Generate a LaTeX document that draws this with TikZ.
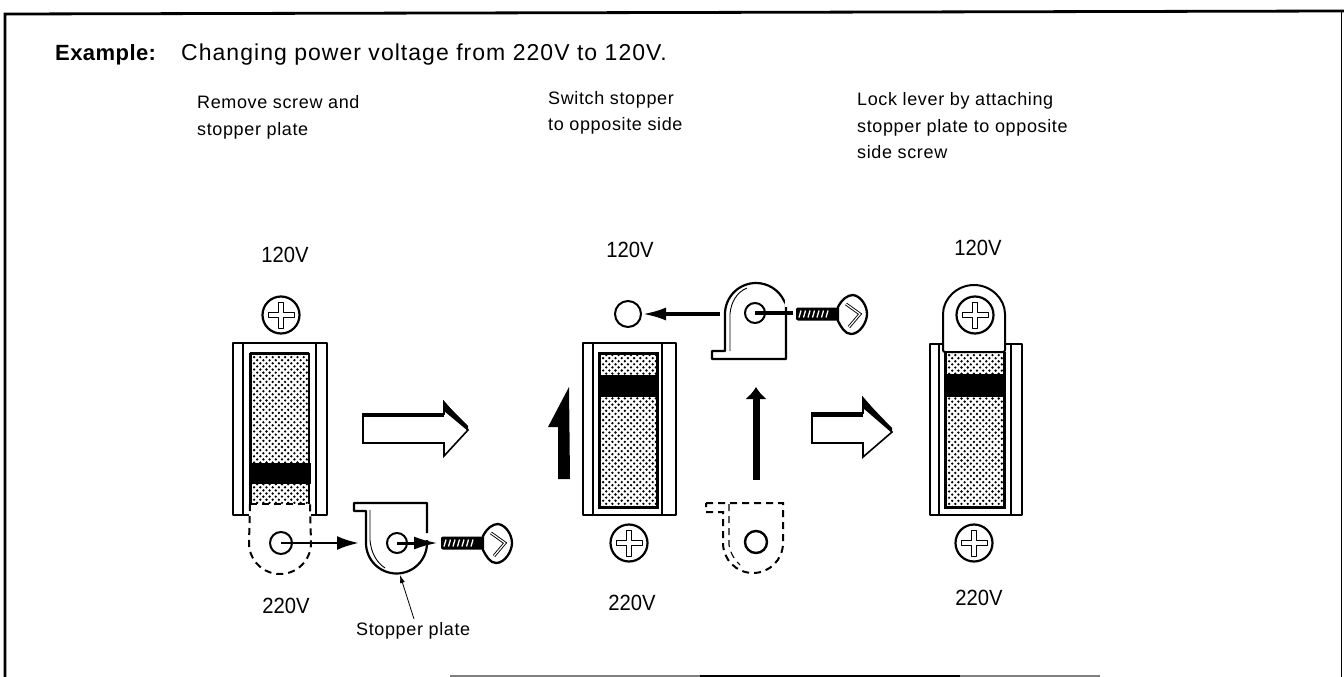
\documentclass[tikz,border=0pt]{standalone}
\usepackage{fontspec}
\setmainfont{Liberation Sans}
\newfontfamily\narrowf[FakeStretch=0.92]{Liberation Sans}
\newfontfamily\titlef[LetterSpace=4.5]{Liberation Sans}
\newfontfamily\exf[LetterSpace=2]{Liberation Sans Bold}
\newfontfamily\capf[LetterSpace=3.5]{Liberation Sans}
\usetikzlibrary{arrows.meta}
\tikzset{
  x=1pt,y=-1pt,
  title/.style={font=\titlef\fontsize{23}{26}\selectfont,anchor=base west,inner sep=0pt},
  caption/.style={font=\capf\fontsize{18}{20}\selectfont,anchor=base west,inner sep=0pt},
  volt/.style={font=\narrowf\fontsize{22}{24}\selectfont,inner sep=0pt,anchor=base},
  part/.style={draw=black,line width=2.2pt,line join=round},
  rail/.style={draw=black,line width=1.7pt},
  dash part/.style={draw=black,line width=2pt,dash pattern=on 7pt off 5pt},
  hole/.style={circle,draw=black,line width=2pt,fill=white,inner sep=0pt,minimum size=#1},
  push/.style={line width=2.8pt,-{Latex[length=22pt,width=14pt]}},
  leader/.style={line width=0.8pt,-{Latex[length=8pt,width=5pt]}},
}
\newcommand{\screwhead}[3]{% name x y : head seen from the front
  \node[circle,draw=black,line width=2.2pt,fill=white,minimum size=37pt,inner sep=0pt] (#1) at (#2,#3) {};
  \draw[line width=0.8pt,fill=white,line join=round] (#2-2.5,#3-13)--(#2+2.5,#3-13)--(#2+2.5,#3-2.5)--(#2+13,#3-2.5)--(#2+13,#3+2.5)--(#2+2.5,#3+2.5)--(#2+2.5,#3+13)--(#2-2.5,#3+13)--(#2-2.5,#3+2.5)--(#2-13,#3+2.5)--(#2-13,#3-2.5)--(#2-2.5,#3-2.5)--cycle;
}
\newcommand{\stipple}[4]{%
  \begin{scope}
    \clip (#1,#2) rectangle (#3,#4);
    \foreach \yy in {0,...,50}{%
      \pgfmathsetmacro{\off}{mod(\yy,2)*3.1}%
      \foreach \xx in {0,...,10}{%
        \fill[black] ({#1+\xx*6.2+\off},{#2+\yy*3.1}) circle (1.3pt);
      }
    }
  \end{scope}
}
\newcommand{\screwside}[3]{% name x y : x y = middle of the head
  \begin{scope}[shift={(#2,#3)}]
    \fill[black,rounded corners=2pt] (-56,-6.5) rectangle (-12,6.5);
    \foreach \tx in {-52,-47.5,-43,-38.5,-34,-29.5,-25}{
      \draw[white,line width=1.3pt] (\tx+1,-3.5) -- (\tx-1,3.5);
    }
    \draw[line width=2.3pt,fill=white,line join=round] (-14,-7) .. controls (-10,-15) and (-4,-19) .. (1,-19) .. controls (9,-18) and (15,-8) .. (15,0) .. controls (15,8) and (8,20) .. (-1,20) .. controls (-7,20) and (-11,13) .. (-14,7) -- cycle;
    \draw[line width=3pt,line join=miter] (-6,-10) -- (8,0) -- (-3,13);
    \draw[white,line width=1.2pt] (-6,-10) -- (8,0) -- (-3,13);
  \end{scope}
  \coordinate (#1) at (#2,#3);
}
\begin{document}
\begin{tikzpicture}
\useasboundingbox (0,0) rectangle (1344,677);
% frame
\coordinate (fTL) at (5,14); \coordinate (fTR) at (1344,11);
\coordinate (fBL) at (5,677); \coordinate (fBR) at (1341,677);
\draw[line width=2.8pt] (fBL) -- (fTL) -- (fTR);
\draw[line width=0.7pt] (1341,12) -- (fBR);
\draw[line width=1.4pt,gray] (450,675.8) -- (1100,675.8);
\draw[line width=1.4pt,black] (700,675.8) -- (960,675.8);
% texts
\node[title,font=\exf\fontsize{22}{26}\selectfont] (ex) at (55,60) {Example:};
\node[title] (ttl) at (181,60) {Changing power voltage from 220V to 120V.};
\node[caption] (c1a) at (197,108) {Remove screw and};
\node[caption] (c1b) at (197,135) {stopper plate};
\node[caption] (c2a) at (548,104) {Switch stopper};
\node[caption] (c2b) at (548,130) {to opposite side};
\node[caption] (c3a) at (857,105) {Lock lever by attaching};
\node[caption] (c3b) at (857,132) {stopper plate to opposite};
\node[caption] (c3c) at (857,158) {side screw};
\node[volt] (a120) at (285,262) {120V};
\node[volt] (b120) at (630,257) {120V};
\node[volt] (d120) at (978,255) {120V};
\node[volt] (a220) at (286,613) {220V};
\node[volt] (b220) at (632,610) {220V};
\node[volt] (d220) at (979,605) {220V};
\node[caption] (sp) at (356,635) {Stopper plate};

% ---------- switch 1
\draw[part] (233,343) rectangle (327,515);
\draw[rail] (243,343) -- (243,515) (316,343) -- (316,515);
\stipple{251}{354}{309}{505}
\draw[part,line width=3pt] (250,353) -- (309,353) (250,353) -- (250,505);
\fill[black] (250,463) rectangle (311,484);
\draw[line width=1.8pt] (309,353)--(309,505);
\screwhead{s1}{281}{315}
% dashed plate at the bottom
\fill[white] (249,504) rectangle (311,516);
\draw[dash part] (250,504) -- (249,543) arc[start angle=180,end angle=0,x radius=31,y radius=31] -- (310,504);
\draw[dash part] (250,504) -- (310,504);
\draw[line width=2.2pt] (233,515) -- (249,515) (311,515) -- (327,515);
% parts taken off
\node[hole=22pt] (h1) at (281,543) {};
\coordinate (h1c) at (281,543);
\coordinate (p1w) at (359,543);
\draw[push] (h1c) -- (p1w);
\fill[white] (354,503) -- (427,503) -- (427,543) arc[start angle=0,end angle=180,x radius=30.5,y radius=30.5] -- (366,511) -- (354,511) -- cycle;
\draw[part] (427,533) -- (427,503) -- (354,503) -- (354,511) -- (366,511) -- (366,543) arc[start angle=180,end angle=0,x radius=30.5,y radius=30.5] -- (427,540);
\draw[line width=0.9pt] (370,510) -- (370,540) .. controls (371,552) and (376,562) .. (385,568);
\node[hole=20pt] (h2) at (397,543) {};
\coordinate (h2c) at (397,543);
\coordinate (s2t) at (438,543);
\draw[line width=3pt,-{Latex[length=24pt,width=13pt]}] (h2c) -- (s2t);
\screwside{scr1}{497}{543}
% leader
\coordinate (lead0) at (414,619); \coordinate (lead1) at (400,575);
\draw[leader] (lead0) -- (lead1);
% big open arrow 1
\draw[line width=1.6pt,fill=white,line join=miter] (363,414) -- (444,414) -- (444,402) -- (468,430) -- (444,456) -- (444,443) -- (363,443) -- cycle;
\draw[line width=4.5pt] (363,415) -- (444,415);
\fill[black] (444,402) -- (468,426) -- (468,431) -- (444,411) -- cycle;

% ---------- switch 2
\draw[part] (583,343) rectangle (676,515);
\draw[rail] (593,343) -- (593,515) (662,343) -- (662,515);
\stipple{600}{355}{657}{506}
\fill[black] (598,375) rectangle (657,397);
\draw[line width=3pt] (599,353) rectangle (657,507);
\screwhead{s2}{629}{543}
\fill[black] (558,479) -- (570,479) -- (569,387) -- (548,427) -- (558,427) -- cycle;
% stopper moved
\node[hole=26pt] (h3) at (628,314) {};
\draw[part,fill=white] (725,351) -- (725,314) arc[start angle=180,end angle=25,x radius=31,y radius=-31] -- (786,304) -- (786,359) -- (712,359) -- (712,351) -- cycle;
\draw[white,line width=3pt] (786,300) -- (786,307);
\draw[line width=0.9pt] (730,351) -- (730,314) .. controls (731,302) and (737,292) .. (747,288);
\node[hole=20pt] (h4) at (755,313) {};
\coordinate (h4c) at (755,313);
\coordinate (h4e) at (793,313);
\draw[line width=3.6pt] (h4c) -- (h4e);
\coordinate (p3w) at (720,314);
\draw[line width=3.8pt,-{Latex[length=24pt,width=13pt]}] (p3w) -- (h3.east);
\screwside{scr2}{852}{314}
\coordinate (up0) at (756,480); \coordinate (up1) at (756,387);
\draw[line width=7pt,-{Latex[length=12pt,width=22pt]}] (up0) -- (up1);
% dashed stopper
\draw[dash part] (706,503) -- (783,503) -- (783,543) arc[start angle=0,end angle=180,x radius=30,y radius=30] -- (723,512) -- (706,512) -- cycle;
\draw[dash part,line width=1.1pt] (729,504) -- (729,545) .. controls (731,555) and (735,560) .. (740,565);
\node[hole=22pt,line width=2.4pt] (h5) at (756,542) {};
% big open arrow 2
\draw[line width=1.6pt,fill=white,line join=miter] (812,413) -- (863,413) -- (863,398) -- (892,432) -- (863,457) -- (863,443) -- (812,443) -- cycle;
\draw[line width=4.5pt] (812,414.5) -- (863,414.5);
\fill[black] (863,398) -- (892,428) -- (892,433) -- (863,408) -- cycle;

% ---------- switch 3
\draw[part] (930,344) rectangle (1022,515);
\draw[rail] (939,344) -- (939,515) (1011,344) -- (1011,515);
\stipple{946}{352}{1004}{506}
\fill[black] (944,374) rectangle (1004,397);
\draw[line width=3pt] (945,352) -- (945,507) -- (1004,507) -- (1004,352);
\draw[line width=2pt,fill=white,rounded corners=2pt] (943,352) -- (943,316) arc[start angle=180,end angle=0,x radius=31,y radius=-31] -- (1005,352) -- cycle;
\screwhead{s3}{975}{315}
\screwhead{s4}{974}{543}
\end{tikzpicture}
\end{document}
